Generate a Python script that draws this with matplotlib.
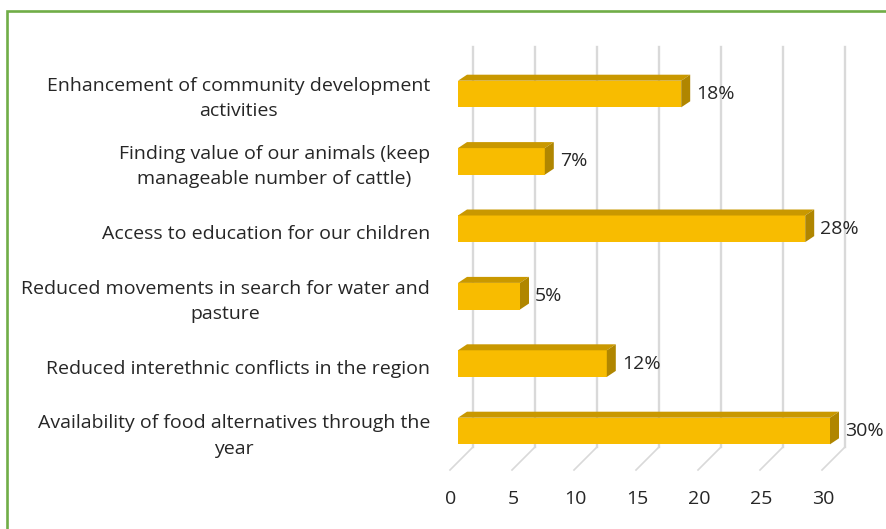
import numpy as np
import matplotlib.pyplot as plt
from matplotlib.patches import Polygon, Rectangle

# survey responses, top to bottom
categories = [
    "Enhancement of community development\nactivities",
    "Finding value of our animals (keep\nmanageable number of cattle)",
    "Access to education for our children",
    "Reduced movements in search for water and\npasture",
    "Reduced interethnic conflicts in the region",
    "Availability of food alternatives through the\nyear",
]
percent = [18, 7, 28, 5, 12, 30]
ticks = [0, 5, 10, 15, 20, 25, 30]

plt.rcParams['font.family'] = ['Open Sans', 'DejaVu Sans']
fs = 14

W, H = 887, 529
fig = plt.figure(figsize=(W / 100, H / 100), dpi=100)
ax = fig.add_axes([0, 0, 1, 1])
ax.axis('off')

# pixel scale of the value axis and row spacing
px_unit = 12.4
px_row = 67.4
x0_px, y0_px = 458, 94
ax.set_xlim(-x0_px / px_unit, (W - x0_px) / px_unit)
ax.set_ylim((H - y0_px) / px_row, -y0_px / px_row)


def dx(p):
    return p / px_unit


def dy(p):
    return p / px_row


# back wall gridlines and floor diagonals
wall_dx, floor_top, floor_bot = 15, 447, 470
for t in ticks:
    xb = t + dx(wall_dx)
    ax.plot([xb, xb], [dy(47 - y0_px), dy(floor_top - y0_px)],
            color='#d9d9d9', lw=1.7, zorder=1)
    ax.plot([xb, t - dx(8)], [dy(floor_top - y0_px), dy(floor_bot - y0_px)],
            color='#d9d9d9', lw=1.2, zorder=1)
    ax.text(t - dx(7), dy(499 - y0_px), str(t), ha='center', va='center',
            fontsize=fs, color='#262626')

# 3D bars: front, top and side faces
half = dy(13.3)
ox, oy = dx(9), dy(-6)
front_c, top_c, side_c = '#f8bc00', '#c99800', '#b08600'
for i, v in enumerate(percent):
    y_top, y_bot = i - half, i + half
    ax.add_patch(Polygon([(0, y_top), (v, y_top), (v, y_bot), (0, y_bot)],
                         closed=True, fc=front_c, ec='none', zorder=3))
    ax.add_patch(Polygon([(0, y_top), (v, y_top), (v + ox, y_top + oy), (ox, y_top + oy)],
                         closed=True, fc=top_c, ec='none', zorder=3))
    ax.add_patch(Polygon([(v, y_top), (v + ox, y_top + oy), (v + ox, y_bot + oy), (v, y_bot)],
                         closed=True, fc=side_c, ec='none', zorder=3))
    ax.text(v + ox + dx(6), i, f"{v}%", ha='left', va='center',
            fontsize=fs, color='#262626', zorder=4)
    ax.text(-dx(28), i + dy(5), categories[i], ha='right', va='center',
            multialignment='center', fontsize=fs, color='#262626',
            linespacing=1.5)

# green frame around the chart area
fig.patches.append(Rectangle((7.5 / W, -0.05), 1.2, (H - 10.5) / H + 0.05,
                             transform=fig.transFigure, fill=False,
                             ec='#70ad47', lw=1.9))

fig.savefig('out.png', dpi=100)
